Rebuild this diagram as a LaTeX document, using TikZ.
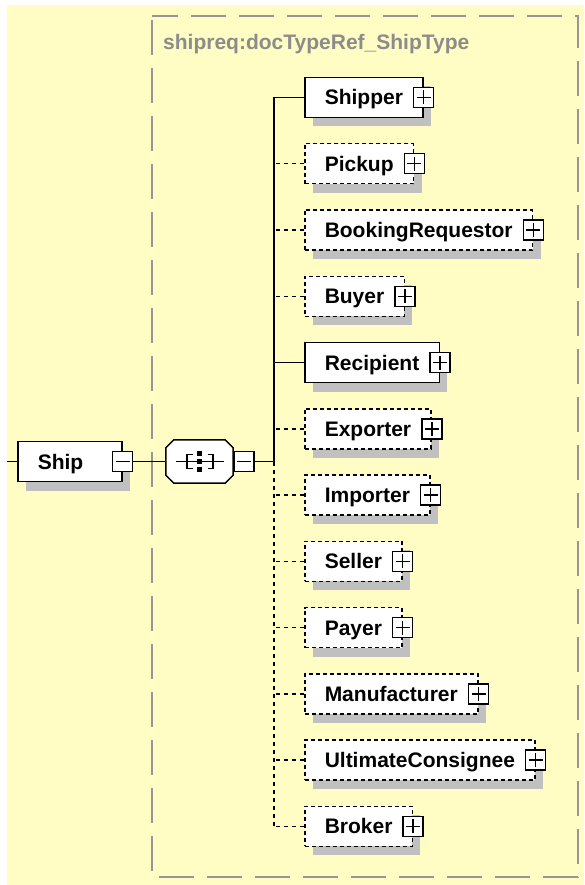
\documentclass[tikz,border=0pt]{standalone}
\usepackage{fontspec}
\setmainfont{Liberation Sans}
\usepackage{tikz}
\usetikzlibrary{shadows}
\usepackage{xcolor}
\definecolor{paneyellow}{RGB}{255,253,196}
\definecolor{framegray}{RGB}{150,150,150}
\definecolor{shadegray}{RGB}{192,192,192}
\definecolor{typegray}{RGB}{140,140,140}

\begin{document}
\begin{tikzpicture}[x=1pt,y=-1pt,font=\fontsize{21}{25}\selectfont\bfseries,line cap=butt,
  elem/.style={draw,fill=white,line width=1.5pt,minimum height=40pt,inner xsep=20pt,inner ysep=0pt,
    text height=17pt,text depth=2pt,anchor=west,
    general shadow={fill=shadegray,shadow xshift=8pt,shadow yshift=-9pt}},
  optelem/.style={elem,dash pattern=on 4pt off 3pt},
  seqbox/.style={minimum width=67pt,minimum height=43pt,inner sep=0pt},
  plusbox/.style={draw,fill=white,line width=1.5pt,minimum size=20pt,inner sep=0pt,
    path picture={\draw[line width=1.5pt] ([xshift=-7pt]path picture bounding box.center) -- ([xshift=7pt]path picture bounding box.center);
      \draw[line width=1.5pt] ([yshift=-7pt]path picture bounding box.center) -- ([yshift=7pt]path picture bounding box.center);}},
  minusbox/.style={draw,fill=white,line width=1.5pt,minimum size=20pt,inner sep=0pt,
    path picture={\draw[line width=1.5pt] ([xshift=-7pt]path picture bounding box.center) -- ([xshift=7pt]path picture bounding box.center);}},
  reqline/.style={line width=1.5pt},
  optline/.style={line width=1.5pt,dash pattern=on 4pt off 4pt}]
\useasboundingbox (0,0) rectangle (584,885);
\fill[paneyellow] (7,5) rectangle (584,885);
\draw[framegray,line width=2pt,dash pattern=on 35pt off 13pt,dash phase=-4pt] (152,16) rectangle (578,877);
\node[anchor=base west,text=typegray,inner sep=0pt] (typename) at (163,50) {shipreq:docTypeRef\_ShipType};

% the element and its sequence
\node[elem,text width=64pt,align=left] (ship) at (17,461.5) {Ship};
\node[minusbox] (shipmin) at (ship.east) {};
\node[seqbox] (seq) at (199.5,461.5) {};
\fill[shadegray,shift={(8,9)}] ([xshift=8pt]seq.north west) -- ([xshift=-8pt]seq.north east)
  -- ([yshift=-8pt]seq.north east) -- ([yshift=8pt]seq.south east) -- ([xshift=-8pt]seq.south east)
  -- ([xshift=8pt]seq.south west) -- ([yshift=8pt]seq.south west) -- ([yshift=-8pt]seq.north west) -- cycle;
\draw[fill=white,line width=1.5pt] ([xshift=8pt]seq.north west) -- ([xshift=-8pt]seq.north east)
  -- ([yshift=-8pt]seq.north east) -- ([yshift=8pt]seq.south east) -- ([xshift=-8pt]seq.south east)
  -- ([xshift=8pt]seq.south west) -- ([yshift=8pt]seq.south west) -- ([yshift=-8pt]seq.north west) -- cycle;
\node[minusbox,anchor=west] (seqmin) at (seq.east) {};
\begin{scope}[shift={(seq.center)},line width=1.5pt]
\draw (-24,0) -- (24,0);
\draw (-7,-7) -- (-12.5,-7) -- (-12.5,7) -- (-7,7);
\draw (8,-7) -- (13.5,-7) -- (13.5,7) -- (8,7);
\fill (-2.5,-10.5) rectangle (2.5,-5.5);
\fill (-2.5,-2.5) rectangle (2.5,2.5);
\fill (-2.5,5.5) rectangle (2.5,10.5);
\end{scope}
\coordinate (inlet) at (7,461.5);
\coordinate (seqjoin) at (274,461.5);
\draw[reqline] (inlet) -- (ship.west);
\draw[reqline] (shipmin.east) -- (seq.west);
\draw[reqline] (seqmin.east) -- (seqjoin);

% children
\node[elem] (shipper) at (304,97.5) {Shipper};
\node[plusbox] (shipperplus) at (shipper.east) {};
\node[optelem] (pickup) at (304,163.75) {Pickup};
\node[plusbox] (pickupplus) at (pickup.east) {};
\node[optelem] (bookingrequestor) at (304,230) {BookingRequestor};
\node[plusbox] (bookingrequestorplus) at (bookingrequestor.east) {};
\node[optelem] (buyer) at (304,296.25) {Buyer};
\node[plusbox] (buyerplus) at (buyer.east) {};
\node[elem] (recipient) at (304,362.5) {Recipient};
\node[plusbox] (recipientplus) at (recipient.east) {};
\node[optelem] (exporter) at (304,428.75) {Exporter};
\node[plusbox] (exporterplus) at (exporter.east) {};
\node[optelem] (importer) at (304,495) {Importer};
\node[plusbox] (importerplus) at (importer.east) {};
\node[optelem] (seller) at (304,561.25) {Seller};
\node[plusbox] (sellerplus) at (seller.east) {};
\node[optelem] (payer) at (304,627.5) {Payer};
\node[plusbox] (payerplus) at (payer.east) {};
\node[optelem] (manufacturer) at (304,693.75) {Manufacturer};
\node[plusbox] (manufacturerplus) at (manufacturer.east) {};
\node[optelem] (ultimateconsignee) at (304,760) {UltimateConsignee};
\node[plusbox] (ultimateconsigneeplus) at (ultimateconsignee.east) {};
\node[optelem] (broker) at (304,826.25) {Broker};
\node[plusbox] (brokerplus) at (broker.east) {};

% trunk and branches
\draw[reqline] (seqjoin) -- (seqjoin |- shipper.west);
\draw[optline] (seqjoin) -- (seqjoin |- broker.west);
\draw[reqline] (shipper.west) -- (seqjoin |- shipper.west);
\draw[optline] (pickup.west) -- (seqjoin |- pickup.west);
\draw[optline] (bookingrequestor.west) -- (seqjoin |- bookingrequestor.west);
\draw[optline] (buyer.west) -- (seqjoin |- buyer.west);
\draw[reqline] (recipient.west) -- (seqjoin |- recipient.west);
\draw[optline] (exporter.west) -- (seqjoin |- exporter.west);
\draw[optline] (importer.west) -- (seqjoin |- importer.west);
\draw[optline] (seller.west) -- (seqjoin |- seller.west);
\draw[optline] (payer.west) -- (seqjoin |- payer.west);
\draw[optline] (manufacturer.west) -- (seqjoin |- manufacturer.west);
\draw[optline] (ultimateconsignee.west) -- (seqjoin |- ultimateconsignee.west);
\draw[optline] (broker.west) -- (seqjoin |- broker.west);
\end{tikzpicture}
\end{document}
